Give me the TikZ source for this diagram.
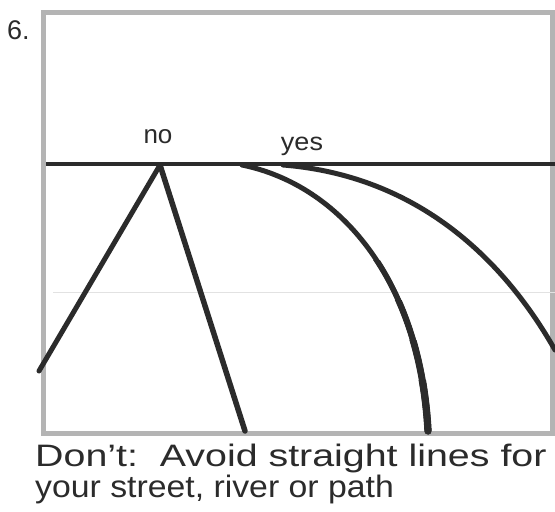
\documentclass[tikz,border=0pt]{standalone}
\usepackage{fontspec}
\setmainfont{Liberation Sans}
\definecolor{framegray}{HTML}{B4B4B4}
\definecolor{ink}{HTML}{2B2B2B}
\definecolor{pencil}{HTML}{E2E2E2}
\begin{document}
\begin{tikzpicture}[x=1pt,y=-1pt,
  frame/.style={draw=framegray,line width=5pt},
  road/.style={draw=ink,line width=5pt,line cap=round,line join=round},
  hand/.style={inner sep=0pt,text=ink}]
\useasboundingbox (0,0) rectangle (555,512);
\fill[white] (0,0) rectangle (555,512);
% frame
\draw[frame] (43,12) rectangle (552,433);
% faint pencil guide
\draw[pencil,line width=0.7pt] (53,292) -- (555,292);
% horizon
\draw[ink,line width=3.2pt] (46,164) -- (555,164);
% straight roads (no)
\coordinate (apex) at (160,165);
\coordinate (leftend) at (39,371);
\coordinate (rightend) at (245,431);
\draw[road] (apex) -- (leftend);
\draw[road,line width=5.5pt] (apex) -- (rightend);
% curved roads (yes)
\coordinate (c1s) at (242,165);
\coordinate (c1e) at (428,431);
\coordinate (c2s) at (283,165);
\coordinate (c2e) at (555,350);
\draw[road] (c1s) .. controls (340,185) and (420,280) .. (c1e);
\foreach \yy/\ww in {260/5.6, 300/6.2, 340/6.8, 380/7.3}{
  \begin{scope}
    \clip (300,\yy) rectangle (500,450);
    \draw[road,line width=\ww pt] (c1s) .. controls (340,185) and (420,280) .. (c1e);
  \end{scope}
}
\draw[road] (c2s) .. controls (420,176) and (505,262) .. (c2e);
% labels
\node[hand,anchor=base west,font=\fontsize{27}{31}\selectfont] (six) at (7,39) {6.};
\node[hand,anchor=base,font=\fontsize{26}{30}\selectfont] (no) at (158,143) {no};
\node[hand,anchor=base,font=\fontsize{25}{29}\selectfont] (yes) at (302,150) {\scalebox{1.08}[1]{yes}};
\node[hand,anchor=base west,font=\fontsize{31}{37}\selectfont] (cap1) at (35,466) {\scalebox{1.27}[1]{Don't:\ \ Avoid straight lines for}};
\node[hand,anchor=base west,font=\fontsize{31}{37}\selectfont] (cap2) at (35,497) {\scalebox{1.09}[1]{your street, river or path}};
\end{tikzpicture}
\end{document}
